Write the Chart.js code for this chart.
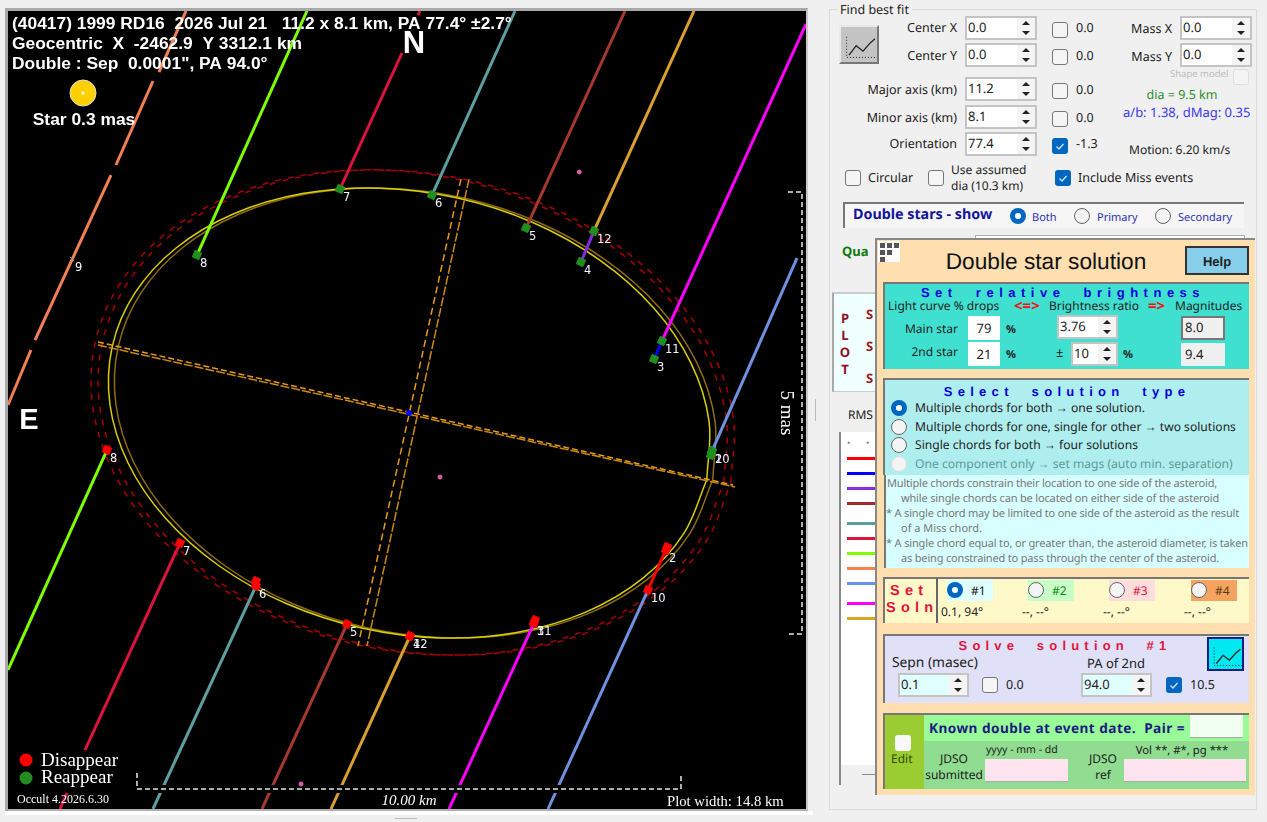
<!DOCTYPE html>
<html><head><meta charset="utf-8"><title>Double star solution</title>
<script src="https://cdn.jsdelivr.net/npm/chart.js@4"></script>
<style>
html,body{margin:0;padding:0;background:#f0f0f0;width:1267px;height:822px;overflow:hidden;font-family:"Noto Sans",sans-serif;font-size:12px;color:#222;text-rendering:geometricPrecision}
#frame{position:absolute;left:5px;top:8px;border-left:3px solid #a8a8a8;border-top:3px solid #a8a8a8;border-right:2px solid #c8c8c8;border-bottom:2px solid #b0b0b0;box-sizing:content-box;background:#000;margin:0}
#c{position:absolute;left:8px;top:11px;width:798px;height:798px;display:block}
#wb{position:absolute;left:5px;top:811px;width:808px;height:4px;background:#fff}
.a{position:absolute;white-space:nowrap;box-sizing:border-box}
.t{position:absolute;white-space:pre;transform:translateY(-50%);line-height:1}
</style></head><body>
<div id="frame" style="width:798px;height:798px"></div><div id="wb"></div>
<canvas id="c" width="798" height="798"></canvas>
<div id="ui"></div>
<script>
// ---- chart values, km from the asteroid centre (x right, y up) ----
const plotXRange=[-7.371,7.298];
const plotYRange=[-7.279,7.390];
const outlineX=[5.465,5.507,5.174,4.489,3.497,2.267,.883,-.561,-1.968,-3.240,-4.291,-5.050,-5.465,-5.507,-5.174,-4.489,-3.497,-2.267,-.883,.561,1.968,3.240,4.291,5.050,5.465];
const outlineY=[-1.221,-.157,.918,1.931,2.812,3.502,3.952,4.134,4.034,3.659,3.034,2.203,1.221,.157,-.918,-1.931,-2.812,-3.502,-3.952,-4.134,-4.034,-3.659,-3.034,-2.203,-1.221];
const limitX=[5.777,5.827,5.480,4.760,3.715,2.417,.954,-.573,-2.062,-3.410,-4.526,-5.333,-5.777,-5.827,-5.480,-4.760,-3.715,-2.417,-.954,.573,2.062,3.410,4.526,5.333,5.777];
const limitY=[-1.291,-.142,1.017,2.106,3.052,3.790,4.270,4.458,4.343,3.932,3.253,2.352,1.291,.142,-1.017,-2.106,-3.052,-3.790,-4.270,-4.458,-4.343,-3.932,-3.253,-2.352,-1.291];
const primaryCentre=[.01,0], secondaryCentre=[.12,0], primaryLimitCentre=[.01,.01], secondaryLimitCentre=[.14,.01];
const majorAxisA=[[-5.717,1.305],[5.956,-1.324]], majorAxisB=[[-5.717,1.250],[5.993,-1.360]];
const minorAxisA=[[.956,4.301],[-.938,-4.283]], minorAxisB=[[1.103,4.301],[-.772,-4.283]];
const disappearX=[-5.551,-4.210,-2.813,-2.813,-1.140,.018,.018,2.298,2.298,2.316,4.393,4.724,4.743];
const disappearY=[-.680,-2.390,-3.180,-3.088,-3.879,-4.099,-4.099,-3.860,-3.860,-3.805,-3.254,-2.518,-2.463];
const disappearLabels=['8','7','6','','5','12','4','3','11','','10','2',''];
const reappearX=[-3.897,-1.268,.423,2.151,3.401,3.162,4.651,4.504,5.570,5.570,5.551];
const reappearY=[2.904,4.118,4.007,3.401,3.346,2.776,1.324,.993,-.699,-.699,-.772];
const reappearLabels=['8','7','6','5','12','4','11','3','2','10',''];
const missX=[-6.195], missY=[2.831], missLabels=['9'];
const chord2=[[4.393,-3.254],[4.743,-2.463]];
const chord3=[[4.504,.993],[4.651,1.324]];
const chord4=[[3.162,2.776],[3.401,3.346]];
const chord5Up=[[2.151,3.401],[3.971,7.390]], chord5Down=[[-1.140,-3.879],[-2.702,-7.279]];
const chord6Up=[[.423,4.007],[1.949,7.390]], chord6Down=[[-2.813,-3.180],[-4.706,-7.279]];
const chord7Up=[[-1.268,4.118],[-.129,6.618]], chord7Top=[[.165,7.316],[.202,7.390]];
const chord7Down=[[-4.210,-2.390],[-5.956,-6.195]], chord7Foot=[[-6.287,-6.985],[-6.415,-7.279]];
const chord8Up=[[-3.897,2.904],[-1.875,7.390]], chord8Down=[[-5.551,-.680],[-7.371,-4.724]];
const chord9A=[[-4.099,7.390],[-4.596,6.268]], chord9B=[[-4.706,6.103],[-5.386,4.559]];
const chord9C=[[-5.478,4.375],[-6.875,1.342]], chord9D=[[-6.949,1.158],[-7.371,.147]];
const chord10Up=[[5.570,-.699],[7.132,2.849]], chord10Down=[[4.393,-3.254],[2.555,-7.279]];
const chord11Up=[[4.651,1.324],[7.298,7.151]], chord11Down=[[2.298,-3.860],[.735,-7.279]];
const chord12Up=[[3.401,3.346],[5.239,7.390]], chord12Down=[[.018,-4.099],[-1.434,-7.279]];
const scaleKm=[[-5,-6.618],[-5,-6.912],[5,-6.912],[5,-6.618]];
const scaleMas=[[6.967,4.062],[7.224,4.062],[7.224,-4.062],[6.967,-4.062]];
const centrePoint=[[0,0]];
const fieldStars=[[3.130,4.430],[.570,-1.176],[-1.985,-6.820]];
const headerLines=['(40417) 1999 RD16  2026 Jul 21   11.2 x 8.1 km, PA 77.4° ±2.7°','Geocentric  X  -2462.9  Y 3312.1 km','Double : Sep  0.0001", PA 94.0°'];

const pts=a=>a.map(([x,y])=>({x,y}));
const zip=(xs,ys,c=[0,0])=>xs.map((x,i)=>({x:x+c[0],y:ys[i]+c[1]}));
const line=(data,color,width,dash,tension)=>({data,showLine:true,borderColor:color,borderWidth:width,borderDash:dash||[],pointRadius:0,tension:tension||0,fill:false,borderCapStyle:'butt'});
const mark=(data,style,color,r,rot)=>({data,showLine:false,pointStyle:style,pointRadius:r,pointBackgroundColor:color,pointBorderColor:color,pointBorderWidth:1,pointRotation:rot||0});
const COL={2:'#ff0000',3:'#0000ff',4:'#8a2be2',5:'#a5382f',6:'#5f9ea0',7:'#dc143c',8:'#7fff00',9:'#f47f55',10:'#7090e0',11:'#ff00ff',12:'#daa030'};
const chordSets=[[chord2,2],[chord3,3],[chord4,4],[chord5Up,5],[chord5Down,5],[chord6Up,6],[chord6Down,6],[chord7Up,7],[chord7Top,7],[chord7Down,7],[chord7Foot,7],[chord8Up,8],[chord8Down,8],[chord9A,9],[chord9B,9],[chord9C,9],[chord9D,9],[chord10Up,10],[chord10Down,10],[chord11Up,11],[chord11Down,11],[chord12Up,12],[chord12Down,12]];

const textPlugin={id:'plotText',afterDatasetsDraw(ch){
  const g=ch.ctx,X=ch.scales.x,Y=ch.scales.y;
  const T=(s,x,y,font,col,al)=>{g.font=font;g.fillStyle=col||'#fff';g.textAlign=al||'left';g.textBaseline='middle';g.fillText(s,x-8,y-11)};
  g.save();
  const num=(xs,ys,ls)=>ls.forEach((l,i)=>{if(l){g.font="11.5px 'DejaVu Sans'";g.fillStyle='#f2f6ff';g.textAlign='left';g.textBaseline='middle';g.fillText(l,X.getPixelForValue(xs[i])+3,Y.getPixelForValue(ys[i])+9)}});
  num(disappearX,disappearY,disappearLabels);num(reappearX,reappearY,reappearLabels);num(missX,missY,missLabels);
  headerLines.forEach((s,i)=>T(s,12,24+i*20,"bold 17.4px 'Liberation Sans'"));
  T('N',414,44,"bold 31px 'Liberation Sans'",'#fff','center');
  T('E',29,421,"bold 29px 'Liberation Sans'",'#fff','center');
  T('Star 0.3 mas',84,120,"bold 17.4px 'Liberation Sans'",'#fff','center');
  g.beginPath();g.arc(83-8,93-11,13,0,7);g.fillStyle='#ffd000';g.fill();g.lineWidth=1;g.strokeStyle='#ddd';g.stroke();
  g.beginPath();g.arc(83-8,93-11,1.5,0,7);g.fillStyle='#fff';g.fill();
  g.beginPath();g.arc(26-8,760-11,6.5,0,7);g.fillStyle='#ff0000';g.fill();
  g.beginPath();g.arc(26-8,778-11,6.5,0,7);g.fillStyle='#228b22';g.fill();
  T('Disappear',41,761,"19px 'Liberation Serif'");
  T('Reappear',41,778,"19px 'Liberation Serif'");
  T('Occult 4.2026.6.30',17,800,"12px 'Liberation Serif'");
  T('10.00 km',409,801,"italic 15px 'Liberation Serif'",'#fff','center');
  T('Plot width: 14.8 km',667,802,"14.7px 'Liberation Serif'");
  g.save();g.translate(786-8,413-11);g.rotate(Math.PI/2);g.font="19px 'Liberation Serif'";g.fillStyle='#fff';g.textAlign='center';g.textBaseline='middle';g.fillText('5 mas',0,0);g.restore();
  g.restore();
}};

new Chart(document.getElementById('c'),{type:'scatter',
 data:{datasets:[
  mark(pts(centrePoint),'circle','#0000ff',2.5),
  mark(zip(disappearX,disappearY),'rect','#ff0000',5,24),
  mark(zip(reappearX,reappearY),'rect','#1f8f1f',5,24),
  mark(zip(missX,missY),'crossRot','#999',3),
  mark(pts(fieldStars),'circle','#e060a8',2),
  line(pts(scaleKm),'#e8e8e8',1.5,[5,3]),
  line(pts(scaleMas),'#e8e8e8',1.5,[5,3]),
  line(pts(scaleKm.slice(1,3)),'#000',8),
  ...chordSets.map(([d,n])=>line(pts(d),COL[n],3)),
  line(pts(majorAxisA),'#e89a10',1.5,[6,3]),
  line(pts(majorAxisB),'#c88a10',1.5,[9,2]),
  line(pts(minorAxisA),'#e89a10',1.5,[7,4]),
  line(pts(minorAxisB),'#c88a10',1.5,[9,2]),
  line(zip(outlineX,outlineY,primaryCentre),'#d8d000',1.5,[],.34),
  line(zip(outlineX,outlineY,secondaryCentre),'#8f6c14',1.5,[],.34),
  line(zip(limitX,limitY,primaryLimitCentre),'#a80000',1.5,[6,7],.34),
  line(zip(limitX,limitY,secondaryLimitCentre),'#a80000',1.5,[6,7],.34)
 ]},
 options:{responsive:false,animation:false,devicePixelRatio:1,layout:{padding:0,autoPadding:false},
  events:[],
  plugins:{legend:{display:false},tooltip:{enabled:false}},
  scales:{x:{type:'linear',display:false,min:plotXRange[0],max:plotXRange[1]},y:{type:'linear',display:false,min:plotYRange[0],max:plotYRange[1]}}},
 plugins:[{id:'bg',beforeDraw(c){c.ctx.fillStyle='#000';c.ctx.fillRect(0,0,c.width,c.height)}},textPlugin]
});

// ---- right-hand dialog ----
const ui=document.getElementById('ui');
function B(x,y,w,h,css,html){const d=document.createElement('div');d.className='a';d.style.cssText=`left:${x}px;top:${y}px;width:${w}px;height:${h}px;`+(css||'');if(html)d.innerHTML=html;ui.appendChild(d);return d}
function L(x,y,s,css){const d=document.createElement('div');d.className='t';d.style.cssText=`left:${x}px;top:${y}px;`+(css||'');d.textContent=s;ui.appendChild(d);return d}
function R(x,y,s,css){return L(0,y,s,`left:auto;right:${1267-x}px;`+(css||''))}
function C(x,y,s,css){return L(x,y,s,'transform:translate(-50%,-50%);'+(css||''))}
function fit(el,w){const m=el.getBoundingClientRect().width;el.style.letterSpacing=((w-m)/el.textContent.length)+'px';return el}
function tri(x,y,up){B(x,y,0,0,`border-left:4px solid transparent;border-right:4px solid transparent;${up?'border-bottom':'border-top'}:4px solid #222`)}
function spin(x,y,w,h,v,bg){B(x,y,w,h,`background:${bg||'#fff'};border:2px solid #c4c4c4`);B(x+w-20,y+2,18,h-4,'background:#f4f4f4');tri(x+w-15,y+5,1);tri(x+w-15,y+h-9,0);L(x+3,y+h/2-1,v,'font-size:13px')}
function cb(x,y,on,css){B(x,y,16,16,on?'background:#0067c0;border-radius:3px':`background:#f5f5f5;border:1.5px solid #777;border-radius:3px;${css||''}`,on?'<svg width="16" height="16"><path d="M4.5 8.5l2.5 2.5 4.5-5" fill="none" stroke="#cfe4ff" stroke-width="1.3"/></svg>':'')}
function rad(cx,cy,on,dis){B(cx-8,cy-8,16,16,on?'background:#0067c0;border-radius:50%':`background:#f4f4f4;border:1.5px solid ${dis?'#ddd':'#666'};border-radius:50%`);if(on)B(cx-3,cy-3,6,6,'background:#fff;border-radius:50%')}
function icon(x,y,w,h,css,stroke){B(x,y,w,h,css,`<svg width="${w}" height="${h}" style="position:absolute;left:0;top:0"><polyline points="${w*.2},${h*.72} ${w*.38},${h*.48} ${w*.55},${h*.62} ${w*.72},${h*.42} ${w*.85},${h*.3}" fill="none" stroke="${stroke}" stroke-width="1.3"/><path d="M${w*.14} ${h*.25}V${h*.78}H${w*.9}" fill="none" stroke="${stroke}" stroke-width="1" stroke-dasharray="1 2"/></svg>`)}

B(815,399,1,22,'background:#bbb');B(395,818,22,1,'background:#bbb');
B(829,9,428,801,'border:1px solid #dcdcdc');
L(837,10,'Find best fit','background:#f0f0f0;padding:0 3px;font-size:12.5px');
icon(839,25,40,39,'background:#c4c4c4;border:2px solid;border-color:#e8e8e8 #777 #777 #e8e8e8','#222');
[['Center X',28,16],['Center Y',56,43],['Major axis (km)',90,77],['Minor axis (km)',118,105],['Orientation',144,132]].forEach(([s,cy,y],i)=>{
 R(957,cy,s,'font-size:12.5px');
 spin(965,y,72,24,['0.0','0.0','11.2','8.1','77.4'][i]);
 cb(1052,y+6,i==4);L(1076,cy,i==4?'-1.3':'0.0','font-size:12.5px');
});
R(1172,29,'Mass X','font-size:12.5px');R(1172,57,'Mass Y','font-size:12.5px');spin(1180,16,72,24,'0.0');spin(1180,43,72,24,'0.0');
L(1170,74,'Shape model','font-size:9.5px;color:#bbb');B(1233,69,16,16,'border:1px solid #ddd;border-radius:3px;background:#f4f4f4');
C(1182,95,'dia = 9.5 km','color:#2e8b2e;font-size:12.5px');L(1123,112,'a/b: 1.38, dMag: 0.35','color:#3a3af0;font-size:13px');
L(1129,150,'Motion: 6.20 km/s','font-size:12px');
cb(845,170);L(868,178,'Circular','font-size:12.5px');cb(928,170);L(951,170,'Use assumed','font-size:12px');L(951,186,'dia (10.3 km)','font-size:12px');
cb(1055,170,1);L(1078,178,'Include Miss events','font-size:12.5px');
B(843,202,401,26,'background:#f6f6f6;border-top:2px solid #777;border-left:2px solid #777');
L(853,215,'Double stars - show','font-weight:700;color:#14149a;font-size:14.3px');
rad(1018,216,1);L(1032,217,'Both','color:#3030b0;font-size:11px');rad(1082,216);L(1097,217,'Primary','color:#3030b0;font-size:11px');rad(1163,216);L(1178,217,'Secondary','color:#3030b0;font-size:11px');
B(975,235,270,6,'border:1px solid #aaa;border-bottom:0;background:#fff');
L(842,251,'Qua','font-weight:700;color:#0a7a0a;font-size:13px');
B(832,292,44,100,'background:#f0ffff;border:1px solid #ccc;border-left:2px solid #aaa;border-top:2px solid #ccc');
['P','L','O','T'].forEach((s,i)=>C(845,318+i*17,s,'font-weight:700;color:#8b1030;font-size:13px'));
[314,346,378].forEach(y=>L(866,y,'S','font-weight:700;color:#9b1c1c;font-size:13px'));
L(848,415,'RMS','font-size:12px');
B(839,432,37,353,'background:#fff;border-left:2px solid #888');
L(847,442,'•','color:#777;font-size:9px');L(866,442,'•','color:#777;font-size:9px');
[[458,'#ff0000'],[473,'#0000ff'],[488,'#8a2be2'],[503,'#a52a2a'],[523,'#5f9ea0'],[538,'#dc143c'],[553,'#7fff00'],[568,'#ff7f50'],[583,'#6495ed'],[603,'#ff00ff'],[618,'#daa520']].forEach(([y,c])=>B(847,y-1.5,29,3,`background:${c}`));
B(841,765,35,20,'background:#f0f0f0');B(862,774,14,1,'background:#888');
B(875,238,380,557,'background:#ffdeb0;border-left:2px solid #888;border-top:2px solid #888');
B(878,241,22,21,'background:#fff');
[[880,243],[887,243],[894,243],[880,250],[887,250],[880,257]].forEach(([x,y])=>B(x,y,5,5,'background:#555'));
C(1046,261,'Double star solution','font-family:"Liberation Sans";font-size:22.7px;color:#111');
B(1185,246,64,29,'background:#87ceeb;border:2px solid #333');C(1217,261,'Help','font-weight:700;font-size:13px;font-family:"Liberation Sans"');
const sec=(x,y,w,h,bg)=>B(x,y,w,h,`background:${bg};border-left:2px solid #777;border-top:2px solid #777`);
sec(883,282,366,87,'#40e0d0');
C(1063,292,'Set  relative  brightness','color:#0000d8;font-weight:700;font-size:13px;letter-spacing:5.5px;font-family:"Liberation Sans"');
L(888,306,'Light curve % drops','font-size:12px');L(1014,306,'<=>','color:#f01010;font-weight:700;font-size:15px');L(1049,306,'Brightness ratio','font-size:12px');L(1148,306,'=>','color:#f01010;font-weight:700;font-size:15px');L(1175,306,'Magnitudes','font-size:12px');
R(958,329,'Main star','font-size:12px');R(958,352,'2nd star','font-size:12px');
B(968,316,32,24,'background:#fff');C(984,328,'79','font-size:13px');L(1006,329,'%','font-weight:700;font-size:11px');
B(968,342,32,24,'background:#fff');C(984,354,'21','font-size:13px');L(1006,354,'%','font-weight:700;font-size:11px');
spin(1057,315,61,24,'3.76');L(1056,352,'±','font-size:13px');spin(1071,342,47,24,'10');L(1123,354,'%','font-weight:700;font-size:11px');
B(1181,316,44,24,'background:#f0f0f0;border:2px solid #777');L(1185,327,'8.0','font-size:13px');
B(1181,343,44,23,'background:#f0f0f0');L(1185,354,'9.4','font-size:13px');
sec(883,378,366,97,'#afeeee');
C(1067,391,'Select  solution  type','color:#0000d8;font-weight:700;font-size:13px;letter-spacing:5.3px;font-family:"Liberation Sans"');
[['Multiple chords for both → one solution.',408,1],['Multiple chords for one, single for other → two solutions',427],['Single chords for both → four solutions',445],['One component only → set mags (auto min. separation)',464,0,1]].forEach(([s,y,on,dis])=>{rad(899,y,on,dis);L(915,y,s,`font-size:12.1px;${dis?'color:#5a9a9a':''}`)});
B(884,475,365,93,'background:#d8ffff;border-left:2px solid #777');
[['Multiple chords constrain their location to one side of the asteroid,',887,483,330],['while single chords can be located on either side of the asteroid',901,498,318],['* A single chord may be limited to one side of the asteroid as the result',886,513,353],['of a Miss chord.',901,528,81],['* A single chord equal to, or greater than, the asteroid diameter, is taken',886,543,362],['as being constrained to pass through the center of the asteroid.',901,558,318]].forEach(([s,x,y,w])=>fit(L(x,y,s,'font-size:11px;color:#777'),w));
sec(883,577,366,46,'#fff8c8');B(936,578,2,45,'background:#666');
L(890,591,'S e t','color:#e0143c;font-weight:700;font-size:14.5px;letter-spacing:.6px;font-family:"Liberation Sans"');L(886,608,'S o l n','color:#e0143c;font-weight:700;font-size:14.5px;letter-spacing:.6px;font-family:"Liberation Sans"');
[[947,'#e0ffff','#1','#111','0.1, 94°',941,1],[1028,'#c8ffc8','#2','#0a8a0a','--, --°',1022],[1109,'#ffdddd','#3','#dc143c','--, --°',1103],[1191,'#f4a460','#4','#5a3a10','--, --°',1184]].forEach(([x,bg,s,c,v,vx,on])=>{B(x,580,46,21,`background:${bg}`);rad(x+8,590,on);L(x+24,591,s,`color:${c};font-size:12px`);L(vx,612,v,'font-size:12px')});
sec(883,634,366,69,'#e0e0f8');
C(1065,645,'Solve  solution  #1','color:#e0143c;font-weight:700;font-size:13px;letter-spacing:5.2px;font-family:"Liberation Sans"');
icon(1207,637,37,34,'background:#00e8f0;border:2px solid #1a1a80','#222');
L(892,663,'Sepn (masec)','font-size:13.8px');L(1087,663,'PA of 2nd','font-size:13px');
spin(898,673,71,24,'0.1','#e0ffff');cb(982,677);L(1006,685,'0.0','font-size:12.5px');
spin(1081,673,71,24,'94.0','#e0ffff');cb(1166,677,1);L(1190,685,'10.5','font-size:12.5px');
sec(883,713,366,76,'#90dc90');
B(885,715,39,74,'background:#9acd32');B(924,715,325,26,'background:#98fb98');
fit(L(929,728,'Known double at event date.  Pair =','font-weight:700;color:#1a1a80;font-size:13.6px'),256);B(1190,715,53,23,'background:#f0fff0;border-bottom:1px solid #aaa');
B(895,735,16,16,'background:#f8f8f8;border-radius:3px');L(891,759,'Edit','color:#3a4a00;font-size:12px');
C(954,759,'JDSO','font-size:12px');C(954,775,'submitted','font-size:12px');L(986,750,'yyyy - mm - dd','font-size:10.5px');
B(985,759,83,23,'background:#ffe4f0;border-bottom:1px solid #aaa');
C(1103,759,'JDSO','font-size:12px');C(1103,775,'ref','font-size:12px');C(1182,751,'Vol **, #*, pg ***','font-size:11.3px');
B(1124,759,122,23,'background:#ffe4f0;border-bottom:1px solid #aaa');
</script></body></html>
